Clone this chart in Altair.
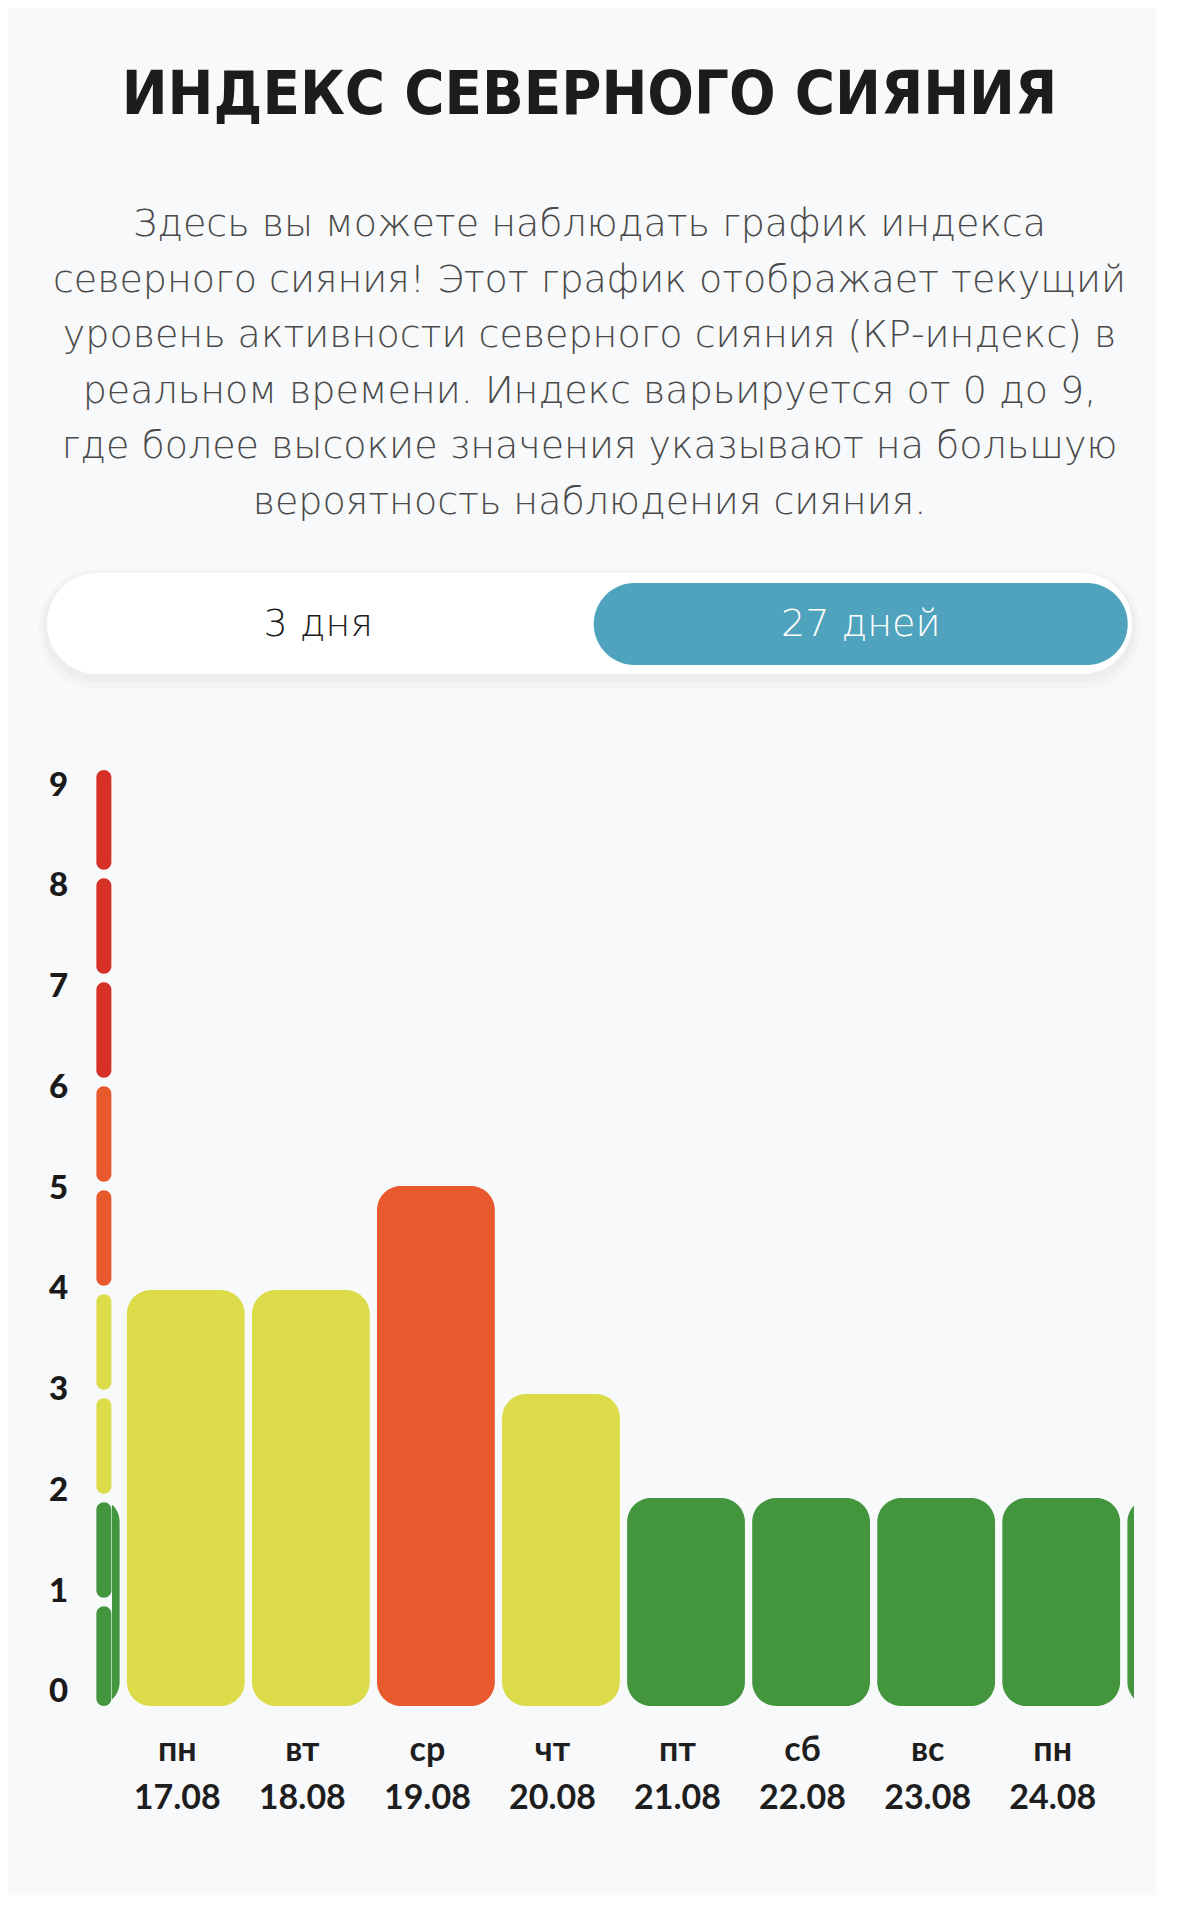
import altair as alt
import pandas as pd

# ---------------- data ----------------
title_text = "ИНДЕКС СЕВЕРНОГО СИЯНИЯ"
subtitle_lines = [
    "Здесь вы можете наблюдать график индекса",
    "северного сияния! Этот график отображает текущий",
    "уровень активности северного сияния (КР-индекс) в",
    "реальном времени. Индекс варьируется от 0 до 9,",
    "где более высокие значения указывают на большую",
    "вероятность наблюдения сияния.",
]
toggle_labels = ["3 дня", "27 дней"]
toggle_selected = "27 дней"

# neighbours (partly scrolled out of view) at both ends
weekdays = ["вс", "пн", "вт", "ср", "чт", "пт", "сб", "вс", "пн", "вт"]
dates = ["16.08", "17.08", "18.08", "19.08", "20.08", "21.08", "22.08", "23.08", "24.08", "25.08"]
kp_values = [2, 4, 4, 5, 3, 2, 2, 2, 2, 2]

kp_levels = list(range(10))               # 0..9 scale labels
level_thresholds = [2, 4, 6]
level_colors = ["#43963e", "#dcdc4a", "#e9592e", "#d63127"]

# ---------------- style ----------------
BG = "#f8f9fb"
PLOT_W = 1022
PLOT_H = 936
TEAL = "#4fa3bc"

color_scale = alt.Scale(type="threshold", domain=level_thresholds, range=level_colors)
x_scale = alt.Scale(domain=[0.45, 8.542], nice=False, zero=False)
y_scale = alt.Scale(domain=[0, 9], nice=False, zero=False)

n = len(kp_values)
visible = list(range(1, n - 1))
label_expr = "[" + ",".join(
    "['%s','%s']" % (weekdays[i], dates[i]) for i in range(n)
) + "][datum.value]"

bars_df = pd.DataFrame({"idx": list(range(n)), "kp": kp_values})
bars = (
    alt.Chart(bars_df)
    .transform_calculate(x0="datum.idx - 0.471", x1="datum.idx + 0.471",
                         lvl="datum.kp - 0.5", base="0")
    .mark_rect(cornerRadius=24, clip=True)
    .encode(
        x=alt.X("x0:Q", scale=x_scale,
                axis=alt.Axis(values=visible, labelExpr=label_expr, title=None,
                              domain=False, ticks=False, grid=False,
                              labelFont="Lato", labelFontSize=34, labelFontWeight="bold",
                              labelColor="#1e1e1e", labelLineHeight=48, labelPadding=27,
                              labelOffset=-9)),
        x2="x1:Q",
        y=alt.Y("kp:Q", scale=y_scale, axis=None),
        y2="base:Q",
        color=alt.Color("lvl:Q", scale=color_scale, legend=None),
    )
)

seg_df = pd.DataFrame({"k": kp_levels[:-1]})
segs = (
    alt.Chart(seg_df)
    .transform_calculate(
        lo="datum.k == 0 ? 0 : datum.k + 0.04",
        hi="datum.k == 8 ? 9 : datum.k + 0.96",
        mid="datum.k + 0.5",
        sx="0.345",
    )
    .mark_bar(size=15, cornerRadius=7.5)
    .encode(
        x=alt.X("sx:Q", scale=x_scale),
        y=alt.Y("lo:Q", scale=y_scale, axis=None),
        y2="hi:Q",
        color=alt.Color("mid:Q", scale=color_scale, legend=None),
    )
)

lab_df = pd.DataFrame({"v": kp_levels})
labels = (
    alt.Chart(lab_df)
    .mark_point(opacity=0)
    .encode(
        y=alt.Y("v:Q", scale=alt.Scale(domain=[-0.139, 9.149], nice=False, zero=False),
                axis=alt.Axis(orient="left", values=kp_levels, title=None, domain=False,
                              ticks=False, grid=False, labelAlign="center",
                              labelBaseline="middle", labelPadding=54,
                              labelFont="Lato", labelFontSize=33, labelFontWeight=900,
                              labelColor="#1a1a1a")),
    )
)

bar_chart = alt.layer(segs, bars, labels).resolve_scale(y="independent").properties(
    width=PLOT_W, height=PLOT_H)

# ---------------- toggle ----------------
one = pd.DataFrame({"a": [0]})
tog_df = pd.DataFrame({"opt": toggle_labels,
                       "sel": [o == toggle_selected for o in toggle_labels]})
tx = alt.Scale(domain=toggle_labels, range=[-65, 1020], paddingInner=0, paddingOuter=0)

shadow1 = alt.Chart(one).mark_rect(cornerRadius=56, color="#000000", opacity=0.018).encode(
    x=alt.value(-73), x2=alt.value(1028), y=alt.value(-3), y2=alt.value(116))
shadow2 = alt.Chart(one).mark_rect(cornerRadius=53, color="#000000", opacity=0.022).encode(
    x=alt.value(-69), x2=alt.value(1024), y=alt.value(0), y2=alt.value(109))
outer = alt.Chart(one).mark_rect(cornerRadius=50, color="#ffffff").encode(
    x=alt.value(-65), x2=alt.value(1020), y=alt.value(0), y2=alt.value(101))
inner = alt.Chart(tog_df).transform_filter("datum.sel").mark_bar(
    cornerRadius=41, color=TEAL, size=534).encode(
    x=alt.X("opt:N", scale=tx, axis=None),
    y=alt.value(10), y2=alt.value(92))
tog_text = alt.Chart(tog_df).mark_text(font="DejaVu Sans", fontSize=38, fontWeight=200).encode(
    x=alt.X("opt:N", scale=tx, axis=None),
    y=alt.value(52),
    text="opt:N",
    color=alt.condition("datum.sel", alt.value("#ffffff"), alt.value("#1e1e1e")),
)
toggle = alt.layer(shadow1, shadow2, outer, inner, tog_text).properties(width=PLOT_W, height=101)

chart = alt.vconcat(toggle, bar_chart, spacing=96, bounds="flush").properties(
    title=alt.TitleParams(
        text=title_text, subtitle=subtitle_lines, anchor="middle", dx=0,
        font="DejaVu Sans Condensed, DejaVu Sans", fontSize=61, fontWeight="bold",
        color="#1c1c1c",
        subtitleFont="DejaVu Sans", subtitleFontSize=38, subtitleFontWeight=200,
        subtitleColor="#4a4a4a", subtitleLineHeight=55.6, subtitlePadding=79, offset=47,
    ),
    padding={"left": 31, "top": 57, "right": 16, "bottom": 80},
).configure(background=BG).configure_view(stroke=None)

chart.save("out.html", embed_options={"renderer": "svg", "actions": False})
